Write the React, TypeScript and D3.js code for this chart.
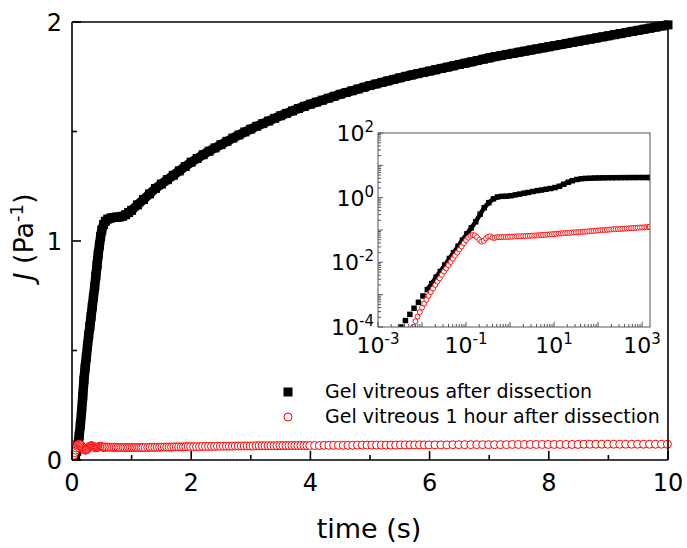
import React from 'react';
import * as d3 from 'd3';

// ---------- data ----------
const xTicksMain = [0, 2, 4, 6, 8, 10];
const xMinorMain = [1, 3, 5, 7, 9];
const yTicksMain = [0, 1, 2];
const yMinorMain = [0.5, 1.5];

const seriesNames = ['Gel vitreous after dissection', 'Gel vitreous 1 hour after dissection'];

// main plot: gel vitreous after dissection (t [s], J [1/Pa])
const blackMain: [number, number][] = [
  [0, 0], [0.02, 0.003], [0.04, 0.01], [0.06, 0.022], [0.08, 0.04], [0.1, 0.07], [0.12, 0.11], [0.14, 0.16],
  [0.16, 0.22], [0.18, 0.29], [0.2, 0.365], [0.22, 0.42], [0.24, 0.47], [0.26, 0.52], [0.28, 0.57], [0.3, 0.61],
  [0.32, 0.655], [0.34, 0.7], [0.36, 0.745], [0.38, 0.79], [0.4, 0.84], [0.42, 0.89], [0.44, 0.94], [0.46, 0.98],
  [0.48, 1.02], [0.5, 1.05], [0.53, 1.075], [0.56, 1.09], [0.6, 1.1], [0.65, 1.105], [0.7, 1.108], [0.75, 1.108],
  [0.8, 1.11], [0.85, 1.113], [0.9, 1.12], [0.95, 1.13],
  [1.0, 1.14], [1.1, 1.165], [1.2, 1.19], [1.3, 1.215], [1.4, 1.24], [1.5, 1.26], [1.6, 1.28], [1.7, 1.3],
  [1.8, 1.32], [1.9, 1.34], [2.0, 1.36], [2.1, 1.377], [2.2, 1.394], [2.3, 1.41], [2.4, 1.425], [2.5, 1.44],
  [2.6, 1.455], [2.7, 1.47], [2.8, 1.484], [2.9, 1.498], [3.0, 1.511], [3.1, 1.524], [3.2, 1.536], [3.3, 1.548],
  [3.4, 1.56], [3.5, 1.572], [3.6, 1.583], [3.7, 1.594], [3.8, 1.605], [3.9, 1.615], [4.0, 1.625], [4.1, 1.634],
  [4.2, 1.643], [4.3, 1.652], [4.4, 1.661], [4.5, 1.67], [4.6, 1.678], [4.7, 1.686], [4.8, 1.694], [4.9, 1.702],
  [5.0, 1.71], [5.1, 1.717], [5.2, 1.724], [5.3, 1.731], [5.4, 1.738], [5.5, 1.745], [5.6, 1.752], [5.7, 1.758],
  [5.8, 1.764], [5.9, 1.77], [6.0, 1.776], [6.1, 1.782], [6.2, 1.788], [6.3, 1.794], [6.4, 1.8], [6.5, 1.806],
  [6.6, 1.812], [6.7, 1.818], [6.8, 1.824], [6.9, 1.83], [7.0, 1.836], [7.1, 1.842], [7.2, 1.847], [7.3, 1.852],
  [7.4, 1.857], [7.5, 1.862], [7.6, 1.867], [7.7, 1.872], [7.8, 1.877], [7.9, 1.882], [8.0, 1.887], [8.1, 1.892],
  [8.2, 1.897], [8.3, 1.902], [8.4, 1.907], [8.5, 1.912], [8.6, 1.917], [8.7, 1.922], [8.8, 1.927], [8.9, 1.932],
  [9.0, 1.937], [9.1, 1.942], [9.2, 1.947], [9.3, 1.952], [9.4, 1.957], [9.5, 1.962], [9.6, 1.967], [9.7, 1.972],
  [9.8, 1.977], [9.9, 1.982], [10.0, 1.987],
];

// main plot: gel vitreous 1 hour after dissection
const redMain: [number, number][] = [
  [0, 0.0], [0.014, 0.01], [0.028, 0.022], [0.042, 0.034], [0.056, 0.045], [0.07, 0.055], [0.084, 0.063], [0.098, 0.068],
  [0.112, 0.071], [0.126, 0.071], [0.14, 0.069], [0.154, 0.065], [0.168, 0.06], [0.182, 0.054], [0.196, 0.049], [0.21, 0.046],
  [0.224, 0.045], [0.238, 0.046], [0.252, 0.049], [0.266, 0.053], [0.28, 0.057], [0.294, 0.061], [0.308, 0.064], [0.322, 0.065],
  [0.336, 0.065], [0.35, 0.063], [0.364, 0.06], [0.378, 0.058], [0.392, 0.056], [0.406, 0.056], [0.42, 0.057], [0.434, 0.059],
  [0.448, 0.061], [0.462, 0.062], [0.476, 0.062], [0.49, 0.061], [0.504, 0.06], [0.518, 0.059], [0.532, 0.058], [0.546, 0.058],
  [0.56, 0.059],
  [0.59, 0.059], [0.62, 0.059], [0.65, 0.058], [0.68, 0.058], [0.71, 0.058], [0.74, 0.058], [0.77, 0.058], [0.8, 0.057],
  [0.83, 0.057], [0.86, 0.057], [0.89, 0.057], [0.92, 0.057], [0.95, 0.057], [0.98, 0.057], [1.01, 0.057], [1.04, 0.057],
  [1.07, 0.057], [1.1, 0.057], [1.13, 0.057], [1.16, 0.057], [1.19, 0.057],
  [1.23, 0.057], [1.27, 0.057], [1.31, 0.058], [1.35, 0.058], [1.39, 0.058], [1.43, 0.058], [1.47, 0.058], [1.51, 0.059],
  [1.55, 0.059], [1.59, 0.059], [1.63, 0.059], [1.67, 0.059], [1.71, 0.06], [1.75, 0.06], [1.79, 0.06], [1.83, 0.06],
  [1.87, 0.06], [1.91, 0.061], [1.95, 0.061], [1.99, 0.061],
  [2.04, 0.061], [2.09, 0.061], [2.14, 0.061], [2.19, 0.062], [2.24, 0.062], [2.29, 0.062], [2.34, 0.062], [2.39, 0.062],
  [2.44, 0.063], [2.49, 0.063], [2.54, 0.063], [2.59, 0.063], [2.64, 0.063], [2.69, 0.063], [2.74, 0.064], [2.79, 0.064],
  [2.84, 0.064], [2.89, 0.064], [2.94, 0.064], [2.99, 0.064], [3.04, 0.064], [3.09, 0.065], [3.14, 0.065], [3.19, 0.065],
  [3.24, 0.065], [3.29, 0.065], [3.34, 0.065], [3.39, 0.065], [3.44, 0.065], [3.49, 0.066], [3.54, 0.066], [3.59, 0.066],
  [3.64, 0.066], [3.69, 0.066], [3.74, 0.066], [3.79, 0.066], [3.84, 0.066], [3.89, 0.066], [3.94, 0.066], [3.99, 0.066],
  [4.07, 0.066], [4.15, 0.066], [4.23, 0.067], [4.31, 0.067], [4.39, 0.067], [4.47, 0.067], [4.55, 0.067], [4.63, 0.067],
  [4.71, 0.067], [4.79, 0.068], [4.87, 0.068], [4.95, 0.068], [5.03, 0.068], [5.11, 0.068], [5.19, 0.068], [5.27, 0.068],
  [5.35, 0.068], [5.43, 0.068], [5.51, 0.069], [5.59, 0.069], [5.67, 0.069], [5.75, 0.069], [5.83, 0.069], [5.91, 0.069],
  [5.99, 0.069],
  [6.09, 0.069], [6.19, 0.069], [6.29, 0.069], [6.39, 0.07], [6.49, 0.07], [6.59, 0.07], [6.69, 0.07], [6.79, 0.07],
  [6.89, 0.07], [6.99, 0.07], [7.09, 0.07], [7.19, 0.07], [7.29, 0.07], [7.39, 0.071], [7.49, 0.071], [7.59, 0.071],
  [7.69, 0.071], [7.79, 0.071], [7.89, 0.071], [7.99, 0.071], [8.09, 0.071], [8.19, 0.071], [8.29, 0.071], [8.39, 0.071],
  [8.49, 0.071], [8.59, 0.072], [8.69, 0.072], [8.79, 0.072], [8.89, 0.072], [8.99, 0.072], [9.09, 0.072], [9.19, 0.072],
  [9.29, 0.072], [9.39, 0.072], [9.49, 0.072], [9.59, 0.072], [9.69, 0.072], [9.79, 0.072], [9.89, 0.072], [9.99, 0.072],
];

// inset (log-log)
const blackInset: [number, number][] = [
  [0.0033, 1.0e-4], [0.0042, 1.58e-4], [0.0053, 2.46e-4], [0.0066, 3.8e-4], [0.0083, 5.8e-4], [0.0105, 9.1e-4],
  [0.0132, 1.43e-3], [0.0166, 2.2e-3], [0.021, 3.5e-3], [0.026, 5.2e-3], [0.033, 8.3e-3], [0.042, 0.0131],
  [0.052, 0.0199], [0.066, 0.0315], [0.083, 0.0486], [0.105, 0.076], [0.132, 0.117], [0.166, 0.18], [0.21, 0.31],
  [0.26, 0.49], [0.33, 0.7], [0.42, 0.92], [0.52, 1.05], [0.66, 1.1], [0.83, 1.11], [1.05, 1.15], [1.32, 1.22],
  [1.66, 1.29], [2.1, 1.38], [2.6, 1.45], [3.3, 1.55], [4.2, 1.65], [5.2, 1.72], [6.6, 1.82], [8.3, 1.92],
  [10.5, 2.05], [13.2, 2.25], [16.6, 2.6], [21, 3.0], [26, 3.35], [33, 3.65], [42, 3.85], [52, 3.95], [66, 4.0],
  [83, 4.05], [105, 4.08], [132, 4.1], [166, 4.12], [210, 4.14], [260, 4.15], [330, 4.16], [420, 4.17],
  [520, 4.18], [660, 4.19], [830, 4.2], [1050, 4.2], [1320, 4.2], [1500, 4.2],
];

const redInset: [number, number][] = [
  [0.0063, 1.0e-4], [0.0071, 1.5e-4], [0.0079, 2.1e-4], [0.0089, 2.9e-4], [0.01, 4.0e-4], [0.0112, 5.3e-4],
  [0.0126, 7.0e-4], [0.0141, 9.2e-4], [0.0158, 1.2e-3], [0.0178, 1.55e-3], [0.02, 2.0e-3], [0.0224, 2.55e-3],
  [0.0251, 3.2e-3], [0.0282, 4.1e-3], [0.0316, 5.2e-3], [0.0355, 6.5e-3], [0.0398, 8.2e-3], [0.0447, 0.0103],
  [0.0501, 0.0129], [0.0562, 0.0161], [0.063, 0.02], [0.0708, 0.025], [0.0794, 0.031], [0.0891, 0.039],
  [0.1, 0.048], [0.112, 0.058], [0.126, 0.066], [0.141, 0.07], [0.158, 0.068], [0.178, 0.06], [0.2, 0.05],
  [0.224, 0.044], [0.251, 0.046], [0.282, 0.055], [0.316, 0.062], [0.355, 0.064], [0.398, 0.058], [0.447, 0.057],
  [0.501, 0.06], [0.562, 0.06], [0.631, 0.06], [0.708, 0.061], [0.794, 0.061], [0.891, 0.061], [1.0, 0.062],
  [1.12, 0.062], [1.26, 0.063], [1.41, 0.063], [1.58, 0.064], [1.78, 0.064], [2.0, 0.065], [2.24, 0.065],
  [2.51, 0.066], [2.82, 0.066], [3.16, 0.067], [3.55, 0.067], [3.98, 0.068], [4.47, 0.069], [5.01, 0.07],
  [5.62, 0.07], [6.31, 0.071], [7.08, 0.072], [7.94, 0.073], [8.91, 0.074], [10, 0.075], [11.2, 0.076],
  [12.6, 0.077], [14.1, 0.078], [15.8, 0.079], [17.8, 0.08], [20, 0.081], [22.4, 0.082], [25.1, 0.083],
  [28.2, 0.084], [31.6, 0.085], [35.5, 0.086], [39.8, 0.087], [44.7, 0.088], [50.1, 0.089], [56.2, 0.09],
  [63.1, 0.091], [70.8, 0.093], [79.4, 0.094], [89.1, 0.095], [100, 0.097], [112, 0.098], [126, 0.099],
  [141, 0.1], [158, 0.101], [178, 0.103], [200, 0.104], [224, 0.105], [251, 0.106], [282, 0.107], [316, 0.108],
  [355, 0.109], [398, 0.11], [447, 0.111], [501, 0.112], [562, 0.114], [631, 0.115], [708, 0.116], [794, 0.117],
  [891, 0.119], [1000, 0.12], [1122, 0.121], [1259, 0.122], [1413, 0.124], [1500, 0.125],
];

const insetXLabelExp = [-3, -1, 1, 3];
const insetYLabelExp = [2, 0, -2, -4];

// ---------- layout ----------
const W = 687, H = 548;
const M = { left: 72, right: 668, top: 22, bottom: 460 };
const I = { left: 378, right: 650, top: 133, bottom: 327 };
const FONT = 'DejaVu Sans, Verdana, sans-serif';

export default function App() {
  const x = d3.scaleLinear().domain([0, 10]).range([M.left, M.right]);
  const y = d3.scaleLinear().domain([0, 2]).range([M.bottom, M.top]);
  const xi = d3.scaleLog().domain([1e-3, Math.pow(10, 3.18)]).range([I.left, I.right]);
  const yi = d3.scaleLog().domain([1e-4, 1e2]).range([I.bottom, I.top]);

  const lineMain = d3.line<[number, number]>().x(d => x(d[0])).y(d => y(d[1]));
  const lineInset = d3.line<[number, number]>().x(d => xi(d[0])).y(d => yi(d[1]));

  const sq = 9;
  const sqI = 5.5;

  const xiTicks = xi.ticks();
  const yiTicks = yi.ticks();
  const isMajor = (v: number) => Math.abs(Math.log10(v) - Math.round(Math.log10(v))) < 1e-6;

  return (
    <svg width={W} height={H} style={{ position: 'absolute', left: 0, top: 0, background: '#fff' }} fontFamily={FONT}>
      <defs>
        <clipPath id="mainClip">
          <rect x={M.left} y={M.top - 6} width={M.right - M.left + 6} height={M.bottom - M.top + 6} />
        </clipPath>
        <clipPath id="insetClip">
          <rect x={I.left} y={I.top} width={I.right - I.left} height={I.bottom - I.top} />
        </clipPath>
      </defs>
      <rect x={0} y={0} width={W} height={H} fill="#fff" />

      {/* main data */}
      <g clipPath="url(#mainClip)">
        <path d={lineMain(blackMain) || ''} fill="none" stroke="#000" strokeWidth={9.5} strokeLinejoin="round" />
        {blackMain.map((d, i) => (
          <rect key={'b' + i} x={x(d[0]) - sq / 2} y={y(d[1]) - sq / 2} width={sq} height={sq} fill="#000" />
        ))}
        {redMain.map((d, i) => (
          <circle key={'r' + i} cx={x(d[0])} cy={y(d[1])} r={4} fill="#fff" stroke="#ff0000" strokeWidth={1} />
        ))}
      </g>

      {/* main frame */}
      <g stroke="#000" strokeWidth={1.6} fill="none">
        <line x1={M.left} y1={M.bottom} x2={M.right} y2={M.bottom} />
        <line x1={M.left} y1={M.top} x2={M.right} y2={M.top} />
        <line x1={M.left} y1={M.top} x2={M.left} y2={M.bottom} />
        <line x1={M.right} y1={M.top} x2={M.right} y2={M.bottom} />
        {xTicksMain.map(t => <line key={'xt' + t} x1={x(t)} x2={x(t)} y1={M.bottom} y2={M.bottom - 9} />)}
        {xMinorMain.map(t => <line key={'xm' + t} x1={x(t)} x2={x(t)} y1={M.bottom} y2={M.bottom - 5} />)}
        {yTicksMain.map(t => <line key={'yt' + t} x1={M.left} x2={M.left + 9} y1={y(t)} y2={y(t)} />)}
        {yMinorMain.map(t => <line key={'ym' + t} x1={M.left} x2={M.left + 5} y1={y(t)} y2={y(t)} />)}
      </g>
      {xTicksMain.map(t => (
        <text key={'xl' + t} x={x(t)} y={491} fontSize={24} textAnchor="middle" fill="#000">{t}</text>
      ))}
      {yTicksMain.map(t => (
        <text key={'yl' + t} x={62} y={y(t)} dy="0.36em" fontSize={24} textAnchor="end" fill="#000">{t}</text>
      ))}
      <text x={369} y={538} fontSize={27} textAnchor="middle" fill="#000">time (s)</text>
      <text transform="translate(33,237) rotate(-90)" fontSize={27} textAnchor="middle" fill="#000">
        <tspan fontStyle="italic">J</tspan>
        <tspan> (Pa</tspan>
        <tspan dy={-10} fontSize={18}>-1</tspan>
        <tspan dy={10}>)</tspan>
      </text>

      {/* legend */}
      <rect x={288 - 4.5} y={392 - 4.5} width={9} height={9} fill="#000" />
      <text x={325} y={398} fontSize={19} fill="#000">{seriesNames[0]}</text>
      <circle cx={288} cy={417} r={4} fill="#fff" stroke="#ff0000" strokeWidth={1} />
      <text x={325} y={423} fontSize={19} fill="#000">{seriesNames[1]}</text>

      {/* inset */}
      <rect x={I.left} y={I.top} width={I.right - I.left} height={I.bottom - I.top} fill="#fff" />
      <g clipPath="url(#insetClip)">
        <path d={lineInset(blackInset.filter(d => d[0] >= 0.012)) || ''} fill="none" stroke="#000" strokeWidth={4.5} />
        {blackInset.map((d, i) => (
          <rect key={'bi' + i} x={xi(d[0]) - sqI / 2} y={yi(d[1]) - sqI / 2} width={sqI} height={sqI} fill="#000" />
        ))}
        {redInset.map((d, i) => (
          <circle key={'ri' + i} cx={xi(d[0])} cy={yi(d[1])} r={2.5} fill="#fff" stroke="#ff0000" strokeWidth={0.9} />
        ))}
      </g>
      <g stroke="#555" strokeWidth={1} fill="none">
        <rect x={I.left} y={I.top} width={I.right - I.left} height={I.bottom - I.top} />
        {xiTicks.map((t, i) => (
          <line key={'xit' + i} x1={xi(t)} x2={xi(t)} y1={I.bottom} y2={I.bottom - (isMajor(t) ? 5 : 3)} />
        ))}
        {yiTicks.map((t, i) => (
          <line key={'yit' + i} x1={I.left} x2={I.left + (isMajor(t) ? 5 : 3)} y1={yi(t)} y2={yi(t)} />
        ))}
      </g>
      {insetXLabelExp.map(e => (
        <text key={'xil' + e} x={xi(Math.pow(10, e))} y={353} fontSize={22} textAnchor="middle" fill="#000">
          10<tspan dy={-9} fontSize={15}>{e}</tspan>
        </text>
      ))}
      {insetYLabelExp.map(e => (
        <text key={'yil' + e} x={374} y={yi(Math.pow(10, e)) + 8} fontSize={22} textAnchor="end" fill="#000">
          10<tspan dy={-9} fontSize={15}>{e}</tspan>
        </text>
      ))}
    </svg>
  );
}
